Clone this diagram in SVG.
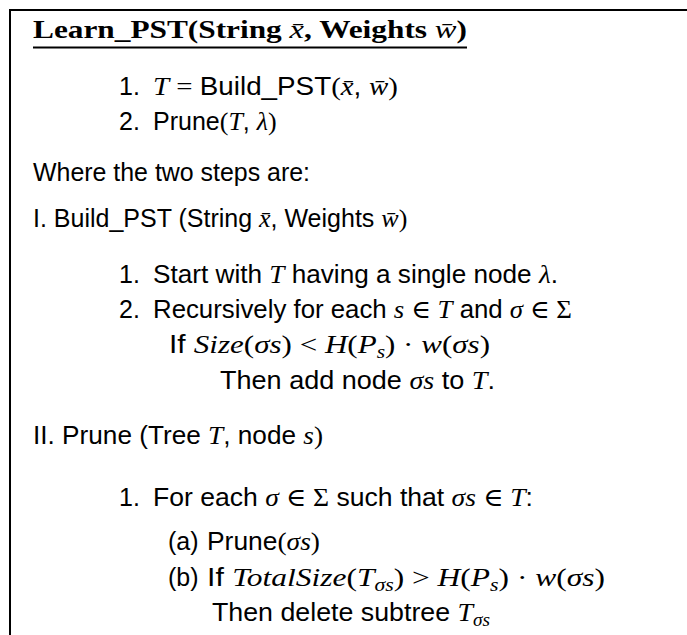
<svg xmlns="http://www.w3.org/2000/svg" width="687" height="635" viewBox="0 0 687 635">
<style>
.t{font-family:"Liberation Sans","DejaVu Sans",sans-serif;font-size:25px;fill:#000}
.m{font-family:"Liberation Serif","DejaVu Serif",serif;font-style:italic;font-size:26px}
.r{font-family:"Liberation Serif","DejaVu Serif",serif;font-style:normal;font-size:26px}
.sub{font-size:18px}
.title{font-family:"Liberation Serif","DejaVu Serif",serif;font-weight:bold;font-size:25px;fill:#000}
.frame{stroke:#000;stroke-width:2;fill:none}
</style>
<rect width="687" height="635" fill="#fff"/>
<g id="frame">
<path class="frame" d="M10,636 V10 H688"/>
</g>
<g id="title">
<text class="title" x="33" y="38" textLength="434" lengthAdjust="spacingAndGlyphs">Learn_PST(String <tspan class="m" font-weight="normal">x̄</tspan>, Weights  <tspan class="m" font-weight="normal">w̄</tspan>)</text>
<line x1="33" y1="47.5" x2="467" y2="47.5" stroke="#000" stroke-width="2.2"/>
</g>
<g id="main-steps">
<text class="t" x="119" y="95">1.</text>
<text class="t" x="153" y="95" textLength="245" lengthAdjust="spacingAndGlyphs"><tspan class="m">T</tspan><tspan class="r"> = </tspan>Build_PST<tspan class="r">(</tspan><tspan class="m">x̄</tspan>, <tspan class="m">w̄</tspan><tspan class="r">)</tspan></text>
<text class="t" x="119" y="130">2.</text>
<text class="t" x="153" y="130">Prune<tspan class="r">(</tspan><tspan class="m">T</tspan>, <tspan class="m">λ</tspan><tspan class="r">)</tspan></text>
<text class="t" x="33" y="181" textLength="277" lengthAdjust="spacingAndGlyphs">Where the two steps are:</text>
</g>
<g id="build-pst">
<text class="t" x="33" y="227">I. Build_PST (String <tspan class="m">x̄</tspan>, Weights <tspan class="m">w̄</tspan><tspan class="r">)</tspan></text>
<text class="t" x="119" y="283">1.</text>
<text class="t" x="153" y="283" textLength="405" lengthAdjust="spacingAndGlyphs">Start with <tspan class="m">T</tspan> having a single node <tspan class="m">λ</tspan>.</text>
<text class="t" x="119" y="318">2.</text>
<text class="t" x="153" y="318" textLength="419" lengthAdjust="spacingAndGlyphs">Recursively for each <tspan class="m">s</tspan><tspan class="r"> ∈ </tspan><tspan class="m">T</tspan> and <tspan class="m">σ</tspan><tspan class="r"> ∈ Σ</tspan></text>
<text class="t" x="169" y="353" textLength="321" lengthAdjust="spacingAndGlyphs">If <tspan class="m">Size</tspan><tspan class="r">(</tspan><tspan class="m">σs</tspan><tspan class="r">) &lt; </tspan><tspan class="m">H</tspan><tspan class="r">(</tspan><tspan class="m">P</tspan><tspan class="m sub" dy="5">s</tspan><tspan class="r" dy="-5">) · </tspan><tspan class="m">w</tspan><tspan class="r">(</tspan><tspan class="m">σs</tspan><tspan class="r">)</tspan></text>
<text class="t" x="220" y="389" textLength="275" lengthAdjust="spacingAndGlyphs">Then add node <tspan class="m">σs</tspan> to <tspan class="m">T</tspan>.</text>
</g>
<g id="prune">
<text class="t" x="33" y="444" textLength="290" lengthAdjust="spacingAndGlyphs">II. Prune (Tree <tspan class="m">T</tspan>, node <tspan class="m">s</tspan><tspan class="r">)</tspan></text>
<text class="t" x="119" y="506">1.</text>
<text class="t" x="153" y="506" textLength="380" lengthAdjust="spacingAndGlyphs">For each <tspan class="m">σ</tspan><tspan class="r"> ∈ Σ</tspan> such that <tspan class="m">σs</tspan><tspan class="r"> ∈ </tspan><tspan class="m">T</tspan>:</text>
<text class="t" x="168" y="550">(a)</text>
<text class="t" x="207" y="550" textLength="113" lengthAdjust="spacingAndGlyphs">Prune<tspan class="r">(</tspan><tspan class="m">σs</tspan><tspan class="r">)</tspan></text>
<text class="t" x="168" y="586">(b)</text>
<text class="t" x="207" y="586" textLength="398" lengthAdjust="spacingAndGlyphs">If <tspan class="m">TotalSize</tspan><tspan class="r">(</tspan><tspan class="m">T</tspan><tspan class="m sub" dy="5">σs</tspan><tspan class="r" dy="-5">) &gt; </tspan><tspan class="m">H</tspan><tspan class="r">(</tspan><tspan class="m">P</tspan><tspan class="m sub" dy="5">s</tspan><tspan class="r" dy="-5">) · </tspan><tspan class="m">w</tspan><tspan class="r">(</tspan><tspan class="m">σs</tspan><tspan class="r">)</tspan></text>
<text class="t" x="212" y="621" textLength="278" lengthAdjust="spacingAndGlyphs">Then delete subtree <tspan class="m">T</tspan><tspan class="m sub" dy="5">σs</tspan></text>
</g>
</svg>
